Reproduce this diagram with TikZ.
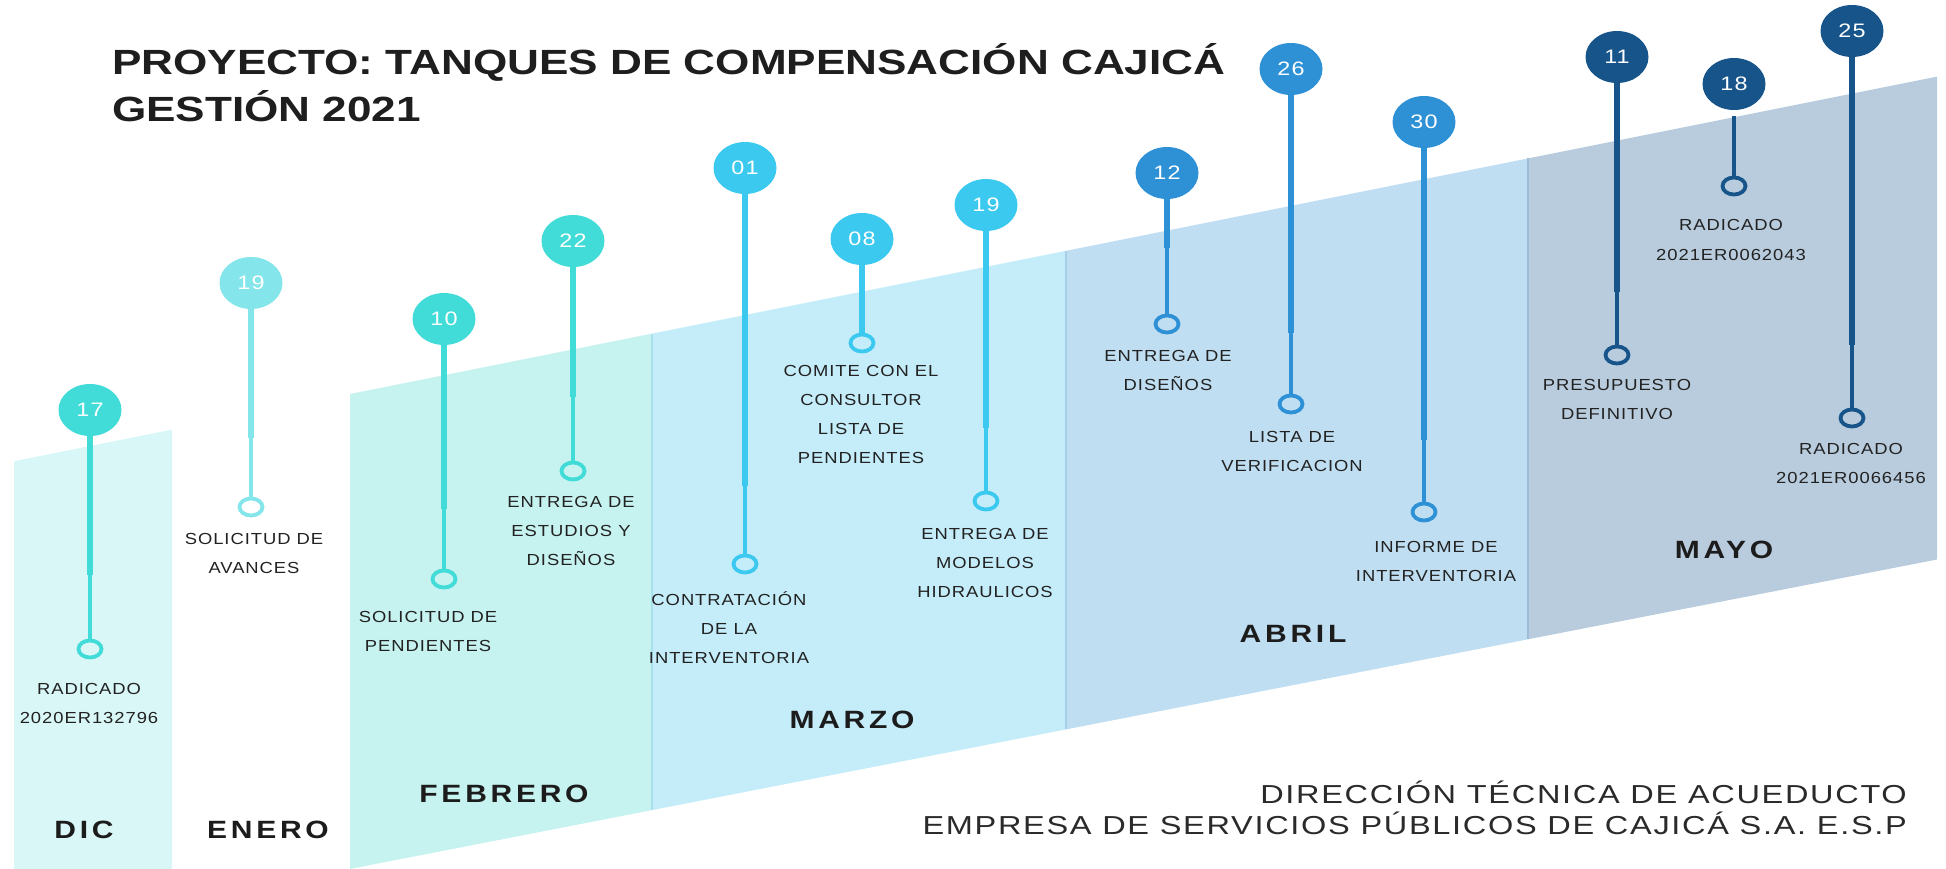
\documentclass[tikz,border=0pt]{standalone}
\usepackage{fontspec}
\setmainfont{Liberation Sans}
\newfontfamily\titlefont[FakeStretch=1.26]{Liberation Sans}
\newfontfamily\lblfont[FakeStretch=1.15,LetterSpace=6]{Liberation Sans}
\newfontfamily\monfont[FakeStretch=1.2,LetterSpace=15]{Liberation Sans}
\newfontfamily\numfont[FakeStretch=1.2,LetterSpace=6]{Liberation Sans}
\newfontfamily\footfont[FakeStretch=1.25,LetterSpace=6.5]{Liberation Sans}
\usetikzlibrary{shapes.geometric}
\definecolor{cDic}{HTML}{D9F7F7}
\definecolor{cFeb}{HTML}{C6F2F0}
\definecolor{cMar}{HTML}{C4ECF9}
\definecolor{cAbr}{HTML}{C0DEF1}
\definecolor{cMay}{HTML}{B9CCDD}
\definecolor{bMar}{HTML}{A9E0EE}
\definecolor{bAbr}{HTML}{A6CFEA}
\definecolor{bMay}{HTML}{9EBCD8}
\definecolor{pDic}{HTML}{41DCD8}
\definecolor{pEne}{HTML}{84E6EA}
\definecolor{pFeb}{HTML}{41DBD8}
\definecolor{pMar}{HTML}{3BC9EF}
\definecolor{pAbr}{HTML}{2E91D6}
\definecolor{pMay}{HTML}{17548A}
\definecolor{lblc}{HTML}{222222}
\definecolor{monc}{HTML}{1C1C1C}
\definecolor{titlec}{HTML}{1E1E1E}
\definecolor{footc}{HTML}{2A2A2A}
\newcommand{\ml}[2][c]{\begin{tabular}[t]{@{}#1@{}}#2\end{tabular}}
\newcommand{\pin}[7]{%
  \node[head, fill=#2] (h#1) at (#3,#4) {#7};
  \node[ring, draw=#2] (r#1) at (#3,#6) {};
  \coordinate (k#1) at (#3,#5);
  \draw[thickstem, draw=#2] (h#1.south) -- (k#1);
  \draw[thinstem, draw=#2] (k#1) -- (r#1.north);
}
\tikzset{
  head/.style={ellipse, minimum width=63pt, minimum height=52pt, inner sep=0pt, text=white,
    font=\numfont\fontsize{19.5}{20}\selectfont},
  ring/.style={ellipse, minimum width=23pt, minimum height=17pt, inner sep=0pt, line width=3.8pt},
  thickstem/.style={line width=5.5pt},
  thinstem/.style={line width=3.7pt},
  lbl/.style={inner sep=0pt, anchor=base, text=lblc, font=\lblfont\fontsize{16}{29}\selectfont},
  month/.style={inner sep=0pt, anchor=base, text=monc, font=\monfont\bfseries\fontsize{25}{30}\selectfont},
  divider/.style={line width=2pt},
}
\begin{document}
\begin{tikzpicture}[x=1pt,y=-1pt]
\useasboundingbox (0,0) rectangle (1946,869);
% month columns
\fill[cDic] (14,461.2) -- (172,429.6) -- (172,869) -- (14,869) -- cycle;
\fill[cFeb] (350,394) -- (652,333.6) -- (652,810.1) -- (350,869) -- cycle;
\fill[cMar] (652,333.6) -- (1066,250.8) -- (1066,729.4) -- (652,810.1) -- cycle;
\fill[cAbr] (1066,250.8) -- (1528,158.4) -- (1528,639.3) -- (1066,729.4) -- cycle;
\fill[cMay] (1528,158.4) -- (1937,76.6) -- (1937,559.5) -- (1528,639.3) -- cycle;
\draw[divider, bMar] (652,333.6) -- (652,810.1);
\draw[divider, bAbr] (1066,250.8) -- (1066,729.4);
\draw[divider, bMay] (1528,158.4) -- (1528,639.3);
% title
\node[inner sep=0pt, anchor=base west, text=titlec,
  font=\titlefont\bfseries\fontsize{35}{47}\selectfont] (title) at (112,75)
  {\ml[l]{PROYECTO: TANQUES DE COMPENSACIÓN CAJICÁ\\GESTIÓN 2021}};
% pins
\pin{17}{pDic}{90}{410}{575}{649}{17}
\pin{19e}{pEne}{251}{283}{438}{507}{19}
\pin{10}{pFeb}{444}{319}{509}{579}{10}
\pin{22}{pFeb}{573}{241}{397}{471}{22}
\pin{01}{pMar}{745}{168}{486}{564}{01}
\pin{08}{pMar}{862}{239}{334}{343}{08}
\pin{19m}{pMar}{986}{205}{428}{501}{19}
\pin{12}{pAbr}{1167}{173}{248}{324}{12}
\pin{26}{pAbr}{1291}{69}{333}{404}{26}
\pin{30}{pAbr}{1424}{122}{440}{512}{30}
\pin{11}{pMay}{1617}{57}{292}{355}{11}
\pin{25}{pMay}{1852}{31}{345}{418}{25}
\node[head, fill=pMay] (h18) at (1734,84) {18};
\node[ring, draw=pMay] (r18) at (1734,186) {};
\coordinate (s18) at (1734,116);
\draw[line width=4.5pt, draw=pMay] (s18) -- (r18.north);
% labels
\node[lbl] (l17) at (89,694) {\ml{RADICADO\\2020ER132796}};
\node[lbl] (l19e) at (254,544) {\ml{SOLICITUD DE\\AVANCES}};
\node[lbl] (l10) at (428,622) {\ml{SOLICITUD DE\\PENDIENTES}};
\node[lbl] (l22) at (571,507) {\ml{ENTREGA DE\\ESTUDIOS Y\\DISEÑOS}};
\node[lbl] (l01) at (729,605) {\ml{CONTRATACIÓN\\DE LA\\INTERVENTORIA}};
\node[lbl] (l08) at (861,376) {\ml{COMITE CON EL\\CONSULTOR\\LISTA DE\\PENDIENTES}};
\node[lbl] (l19m) at (985,539) {\ml{ENTREGA DE\\MODELOS\\HIDRAULICOS}};
\node[lbl] (l12) at (1168,361) {\ml{ENTREGA DE\\DISEÑOS}};
\node[lbl] (l26) at (1292,442) {\ml{LISTA DE\\VERIFICACION}};
\node[lbl] (l30) at (1436,552) {\ml{INFORME DE\\INTERVENTORIA}};
\node[lbl] (l11) at (1617,390) {\ml{PRESUPUESTO\\DEFINITIVO}};
\node[lbl] (l18) at (1731,231) {\ml{RADICADO\\2021ER0062043}};
\node[lbl] (l25) at (1851,454) {\ml{RADICADO\\2021ER0066456}};
% months
\node[month] (mDic) at (84,838) {DIC};
\node[month] (mEne) at (268,838) {ENERO};
\node[month] (mFeb) at (504,802) {FEBRERO};
\node[month] (mMar) at (852,728) {MARZO};
\node[month] (mAbr) at (1293,642) {ABRIL};
\node[month] (mMay) at (1724,558) {MAYO};
% footer
\node[inner sep=0pt, anchor=base east, text=footc,
  font=\footfont\fontsize{26}{30}\selectfont] (foot) at (1907,803)
  {\ml[r]{DIRECCIÓN TÉCNICA DE ACUEDUCTO\\EMPRESA DE SERVICIOS PÚBLICOS DE CAJICÁ S.A. E.S.P}};
\end{tikzpicture}
\end{document}
